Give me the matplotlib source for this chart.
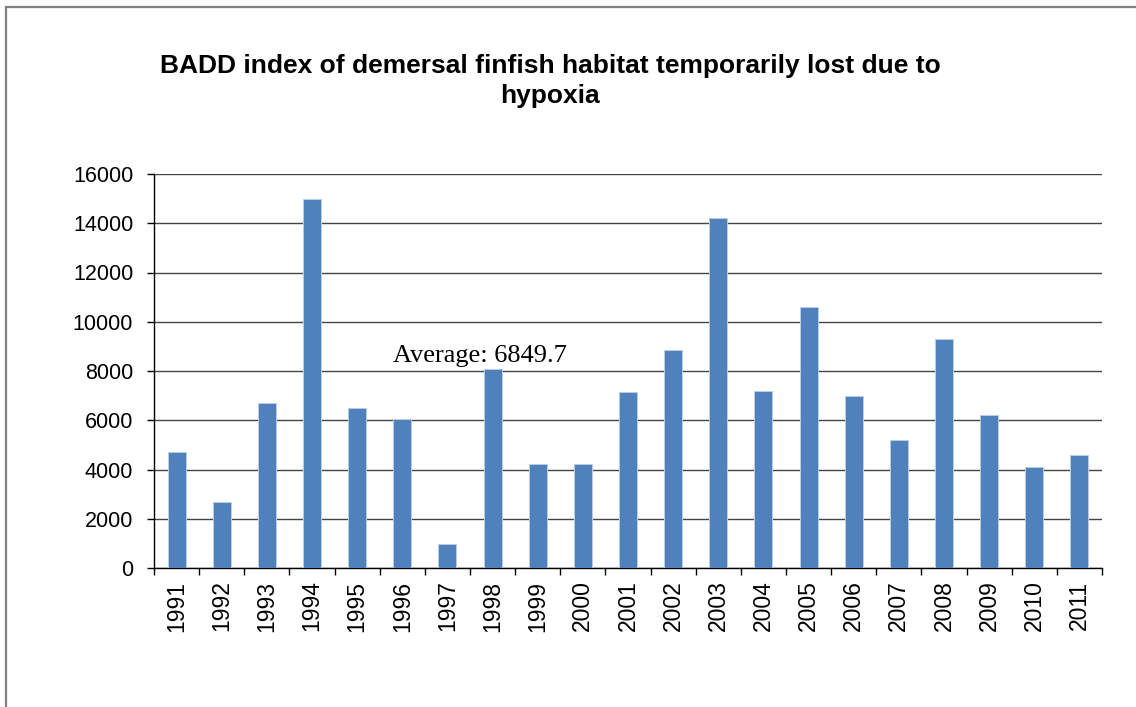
import matplotlib.pyplot as plt
from matplotlib.patches import Rectangle
from matplotlib.ticker import MultipleLocator

# BADD index by year
years = ["1991", "1992", "1993", "1994", "1995", "1996", "1997", "1998", "1999", "2000", "2001",
         "2002", "2003", "2004", "2005", "2006", "2007", "2008", "2009", "2010", "2011"]
badd = [4730, 2690, 6690, 14970, 6500, 6040, 980, 8090, 4240, 4210, 7150,
        8850, 14230, 7190, 10600, 7000, 5190, 9290, 6200, 4090, 4590]
average_label = "Average: 6849.7"

bar_color = "#4F81BD"
sans = "Liberation Sans"
serif = "Liberation Serif"

fig = plt.figure(figsize=(11.36, 7.07), dpi=100)
ax = fig.add_axes([154 / 1136, 139 / 707, 948 / 1136, 394 / 707])

x = range(len(years))
ax.bar(x, badd, width=0.4, color=bar_color, edgecolor="#B9CDE5", linewidth=0.7, zorder=3)

ax.set_xlim(-0.5, len(years) - 0.5)
ax.set_ylim(0, 16000)
ax.yaxis.set_major_locator(MultipleLocator(2000))

# gridlines
ax.yaxis.grid(True, color="#444444", linewidth=1.0, zorder=0)
ax.get_ygridlines()[-1].set_color("#f2f2f2")
ax.get_ygridlines()[0].set_visible(False)

# category labels in the middle, tick marks on the boundaries
ax.set_xticks(list(x))
ax.set_xticklabels(years, rotation=90, fontsize=16.5, family=sans)
ax.set_xticks([i - 0.5 for i in range(len(years) + 1)], minor=True)
ax.tick_params(axis="x", which="major", length=0, pad=9)
ax.tick_params(axis="x", which="minor", length=5, width=1, direction="out")
ax.tick_params(axis="y", length=5, width=1, direction="out", pad=10)
for lbl in ax.get_yticklabels():
    lbl.set_fontsize(15.5)
    lbl.set_family(sans)

for side in ("top", "right"):
    ax.spines[side].set_visible(False)
for side in ("left", "bottom"):
    ax.spines[side].set_linewidth(1.0)
    ax.spines[side].set_color("black")

ax.text(4.8, 8380, average_label, family=serif, fontsize=19, va="baseline", ha="left", zorder=4)

fig.text(550 / 1136, 1 - 81 / 707,
         "BADD index of demersal finfish habitat temporarily lost due to\nhypoxia",
         ha="center", va="center", fontsize=19, fontweight="bold", family=sans, linespacing=1.3)

# outer frame
fig.patches.append(Rectangle((6 / 1136, -0.2), 1.2, 1.2 - 7 / 707, transform=fig.transFigure,
                             fill=False, edgecolor="#808080", linewidth=1.6))

fig.savefig("out.png", dpi=100)
